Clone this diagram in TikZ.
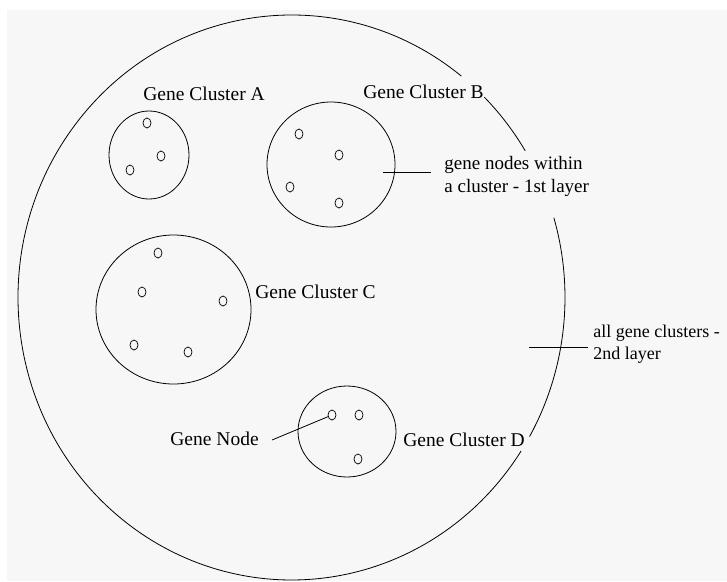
\documentclass[tikz,border=0pt]{standalone}
\usepackage{fontspec}
\setmainfont{Liberation Serif}
\usetikzlibrary{shapes.geometric}
\begin{document}
\begin{tikzpicture}[x=1pt,y=1pt,
  line width=0.8pt,
  cluster/.style={draw, ellipse, inner sep=0pt},
  gene/.style={draw, ellipse, inner sep=0pt, minimum width=8pt, minimum height=10pt, line width=0.7pt},
  lbl/.style={inner sep=0pt, anchor=base west, font=\fontsize{19.5}{23}\selectfont},
  mlbl/.style={inner sep=0pt, anchor=north west, align=left, font=\fontsize{19.5}{22.5}\selectfont},
  pointer/.style={line width=0.8pt}]
\useasboundingbox (0,0) rectangle (727,-581);
\fill[white] (0,0) rectangle (727,-581);
\fill[black!3] (7,-10) rectangle (727,-581);

% outer boundary (2nd layer), drawn with gaps at the labels
\coordinate (O) at (291.5,-297.5);
\draw (O) ++(51.6:273.5 and 282.5) arc[start angle=51.6, end angle=327.1, x radius=273.5, y radius=282.5];
\draw (O) ++(-29.5:273.5 and 282.5) arc[start angle=-29.5, end angle=16.4, x radius=273.5, y radius=282.5];
\draw (O) ++(31.3:273.5 and 282.5) arc[start angle=31.3, end angle=45.2, x radius=273.5, y radius=282.5];

% clusters
\node[cluster, minimum width=80pt, minimum height=88pt] (clA) at (149,-155) {};
\node[cluster, minimum width=128pt, minimum height=125pt] (clB) at (331,-164.5) {};
\node[cluster, minimum width=155pt, minimum height=149pt] (clC) at (173.5,-309.5) {};
\node[cluster, minimum width=98pt, minimum height=91pt] (clD) at (347,-431.5) {};

% gene nodes
\node[gene] (a1) at (147,-123) {};
\node[gene] (a2) at (161,-156) {};
\node[gene] (a3) at (130,-170) {};
\node[gene] (b1) at (299,-134) {};
\node[gene] (b2) at (339,-155) {};
\node[gene] (b3) at (290,-187) {};
\node[gene] (b4) at (339,-203) {};
\node[gene] (c1) at (158,-253) {};
\node[gene] (c2) at (142,-292) {};
\node[gene] (c3) at (223,-301) {};
\node[gene] (c4) at (134,-345) {};
\node[gene] (c5) at (188,-352) {};
\node[gene] (d1) at (332,-415) {};
\node[gene] (d2) at (359,-415) {};
\node[gene] (d3) at (358,-459) {};

% labels
\node[lbl] (lA) at (143,-100) {Gene Cluster A};
\node[lbl] (lB) at (363,-98) {Gene Cluster B};
\node[lbl] (lC) at (255,-298) {Gene Cluster C};
\node[lbl] (lD) at (403,-446) {Gene Cluster D};
\node[lbl] (lGN) at (170,-445) {Gene Node};
\node[mlbl, font=\fontsize{19}{22.5}\selectfont] (l1) at (444,-156) {gene nodes within\\a cluster - 1st layer};
\node[mlbl, font=\fontsize{18}{22}\selectfont] (l2) at (593,-325) {all gene clusters -\\2nd layer};

% pointers
\coordinate (p1s) at (383,-172);
\coordinate (p1e) at (431,-172);
\coordinate (p2s) at (529,-347);
\coordinate (p2e) at (588,-347);
\coordinate (gnp) at (272,-440);
\draw[pointer] (p1s) -- (p1e);
\draw[pointer] (p2s) -- (p2e);
\draw[pointer] (gnp) -- (d1);
\end{tikzpicture}
\end{document}
